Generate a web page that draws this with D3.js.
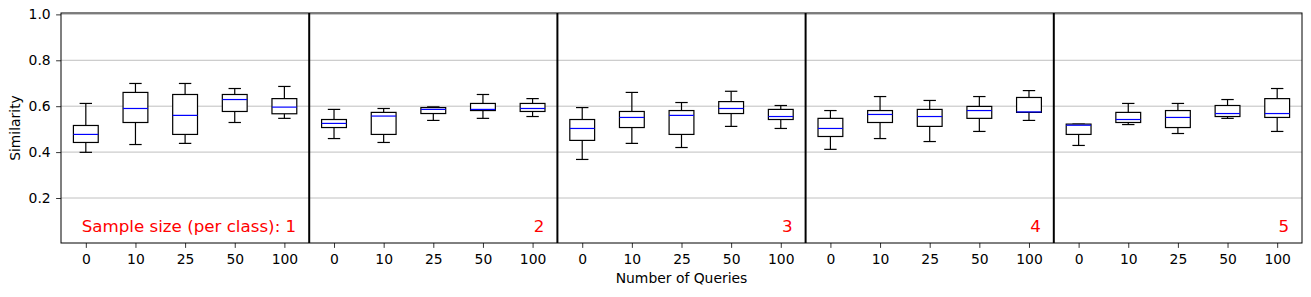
<!DOCTYPE html>
<html><head><meta charset="utf-8">
<script src="https://cdn.jsdelivr.net/npm/d3@7"></script>
<style>body{margin:0;background:#fff}svg{display:block}text{font-family:"DejaVu Sans",sans-serif}</style>
</head><body><svg id="c" width="1311" height="297"></svg>
<script>
const sampleSizes = [1, 2, 3, 4, 5];
const queries = ["0", "10", "25", "50", "100"];
const yTicks = [0.2, 0.4, 0.6, 0.8, 1.0];
// each row: [min, q1, median, q3, max] for queries 0,10,25,50,100
const stats1 = [[0.399,0.442,0.477,0.516,0.612],[0.433,0.529,0.590,0.660,0.699],[0.438,0.477,0.560,0.651,0.699],[0.529,0.577,0.629,0.651,0.677],[0.547,0.567,0.596,0.633,0.686]];
const stats2 = [[0.459,0.507,0.525,0.542,0.586],[0.442,0.477,0.557,0.573,0.590],[0.538,0.568,0.586,0.594,0.597],[0.547,0.581,0.586,0.612,0.651],[0.555,0.577,0.590,0.612,0.633]];
const stats3 = [[0.368,0.451,0.503,0.542,0.594],[0.438,0.507,0.551,0.577,0.660],[0.420,0.477,0.560,0.581,0.616],[0.512,0.568,0.590,0.620,0.665],[0.503,0.542,0.555,0.586,0.603]];
const stats4 = [[0.412,0.468,0.503,0.547,0.581],[0.459,0.529,0.564,0.581,0.642],[0.446,0.512,0.555,0.586,0.625],[0.490,0.547,0.581,0.599,0.642],[0.538,0.573,0.575,0.638,0.668]];
const stats5 = [[0.429,0.477,0.517,0.522,0.522],[0.520,0.529,0.542,0.573,0.612],[0.481,0.507,0.551,0.581,0.612],[0.547,0.555,0.568,0.603,0.629],[0.490,0.551,0.568,0.633,0.677]];
const panels = [stats1, stats2, stats3, stats4, stats5];

const svg = d3.select("#c");
const L = 61, R = 1302, T = 13, B = 243;
const nPer = queries.length, nTot = panels.length * nPer;
const x = d3.scaleLinear().domain([0.5, nTot + 0.5]).range([L, R]);
const y = d3.scaleLinear().domain([0.004, 1.006]).range([B, T]);
const boxW = 0.5, capW = 0.25;
const FS = 13.9;

// grid
svg.append("g").selectAll("line").data(yTicks).join("line")
  .attr("x1", L).attr("x2", R).attr("y1", d => y(d)).attr("y2", d => y(d))
  .attr("stroke", "#b0b0b0").attr("stroke-width", 0.8);

// boxes
const items = [];
panels.forEach((p, pi) => p.forEach((s, qi) => items.push({pos: pi * nPer + qi + 1, s})));
const g = svg.append("g");
items.forEach(d => {
  const [mn, q1, md, q3, mx] = d.s;
  const gg = g.append("g").attr("stroke", "#000").attr("stroke-width", 1.2).attr("fill", "none");
  gg.append("line").attr("x1", x(d.pos)).attr("x2", x(d.pos)).attr("y1", y(q3)).attr("y2", y(mx));
  gg.append("line").attr("x1", x(d.pos)).attr("x2", x(d.pos)).attr("y1", y(q1)).attr("y2", y(mn));
  gg.append("line").attr("x1", x(d.pos - capW/2)).attr("x2", x(d.pos + capW/2)).attr("y1", y(mx)).attr("y2", y(mx));
  gg.append("line").attr("x1", x(d.pos - capW/2)).attr("x2", x(d.pos + capW/2)).attr("y1", y(mn)).attr("y2", y(mn));
  gg.append("rect").attr("x", x(d.pos - boxW/2)).attr("width", x(d.pos + boxW/2) - x(d.pos - boxW/2))
    .attr("y", y(q3)).attr("height", y(q1) - y(q3)).attr("fill", "#fff");
  gg.append("line").attr("x1", x(d.pos - boxW/2)).attr("x2", x(d.pos + boxW/2)).attr("y1", y(md)).attr("y2", y(md))
    .attr("stroke", "#0000ff");
});

// separators
svg.append("g").selectAll("line").data(d3.range(1, panels.length)).join("line")
  .attr("x1", d => x(d * nPer + 0.5)).attr("x2", d => x(d * nPer + 0.5)).attr("y1", T).attr("y2", B)
  .attr("stroke", "#000").attr("stroke-width", 2);

// panel labels
svg.append("g").selectAll("text").data(sampleSizes).join("text")
  .attr("x", (d, i) => x((i + 1) * nPer + 0.5) - 13).attr("y", B - 11)
  .attr("text-anchor", "end").attr("fill", "#ff0000").attr("font-size", 16.7)
  .text((d, i) => i === 0 ? "Sample size (per class): " + d : String(d));

// frame
svg.append("rect").attr("x", L).attr("y", T).attr("width", R - L).attr("height", B - T)
  .attr("fill", "none").attr("stroke", "#000").attr("stroke-width", 1);

// x axis
const xt = d3.range(1, nTot + 1);
const xAxis = d3.axisBottom(x).tickValues(xt).tickFormat(d => queries[(d - 1) % nPer]).tickSize(4.9).tickPadding(6.5);
const gx = svg.append("g").attr("transform", `translate(0,${B})`).call(xAxis);
gx.select(".domain").remove();
gx.selectAll("text").attr("font-size", FS).attr("fill", "#000").style("font-family", "DejaVu Sans");
gx.selectAll("line").attr("stroke", "#000").attr("stroke-width", 0.8);

// y axis
const yAxis = d3.axisLeft(y).tickValues(yTicks).tickFormat(d3.format(".1f")).tickSize(4.9).tickPadding(5.4);
const gy = svg.append("g").attr("transform", `translate(${L},0)`).call(yAxis);
gy.select(".domain").remove();
gy.selectAll("text").attr("font-size", FS).attr("fill", "#000").style("font-family", "DejaVu Sans");
gy.selectAll("line").attr("stroke", "#000").attr("stroke-width", 0.8);

// labels
svg.append("text").attr("x", (L + R) / 2).attr("y", 283).attr("text-anchor", "middle").attr("font-size", FS).text("Number of Queries");
svg.append("text").attr("transform", `translate(20,${(T + B) / 2}) rotate(-90)`).attr("text-anchor", "middle").attr("font-size", FS).text("Similarity");
</script></body></html>
